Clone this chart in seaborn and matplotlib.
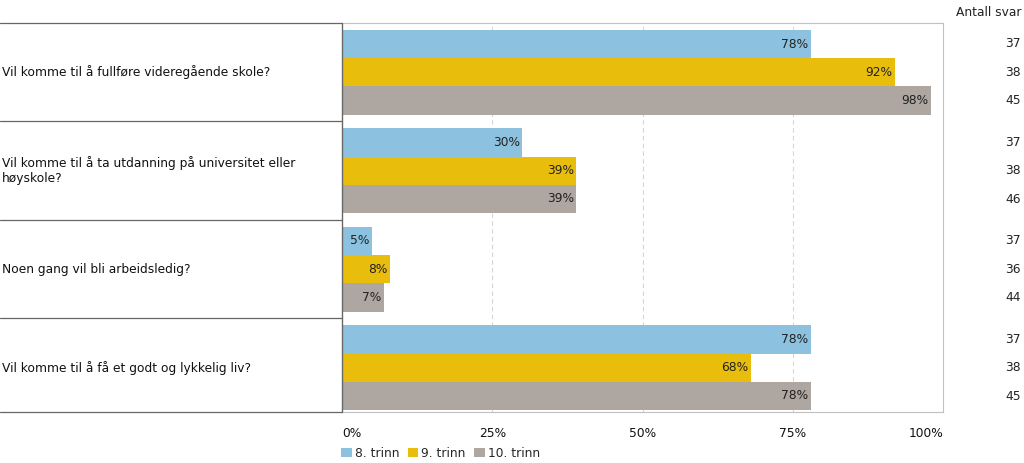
import pandas as pd
import seaborn as sns
import matplotlib.pyplot as plt
import matplotlib.transforms as mtransforms

questions = ['Vil komme til å fullføre videregående skole?',
             'Vil komme til å ta utdanning på universitet eller\nhøyskole?',
             'Noen gang vil bli arbeidsledig?',
             'Vil komme til å få et godt og lykkelig liv?']
grades = ['8. trinn', '9. trinn', '10. trinn']
pct_8 = [78, 30, 5, 78]
pct_9 = [92, 39, 8, 68]
pct_10 = [98, 39, 7, 78]
n_8 = [37, 37, 37, 37]
n_9 = [38, 38, 36, 38]
n_10 = [45, 46, 44, 45]
colors = ['#8cc2df', '#e9bd0b', '#aea6a0']

rows = []
for i, q in enumerate(questions):
    for g, p, n in zip(grades, [pct_8, pct_9, pct_10], [n_8, n_9, n_10]):
        rows.append({'q': q, 'grade': g, 'pct': p[i], 'n': n[i]})
df = pd.DataFrame(rows)

sns.set_style('white')
plt.rcParams['font.family'] = ['DejaVu Sans']
fs = 8.8
fig = plt.figure(figsize=(10.24, 4.63), dpi=100)
W, H = 1024, 463
x0, x1, y0, y1 = 342, 943, 23, 412
ylo, yhi = 3.45, -0.5
ax = fig.add_axes([x0 / W, 1 - y1 / H, (x1 - x0) / W, (y1 - y0) / H])

sns.barplot(data=df, y='q', x='pct', hue='grade', hue_order=grades, order=questions,
            palette=colors, orient='h', width=0.86, saturation=1, linewidth=0,
            ax=ax, legend=True)
ax.set_xlim(0, 100)
ax.set_ylim(ylo, yhi)
ax.set_xticks([0, 25, 50, 75, 100])
ax.set_xticklabels(['0%', '25%', '50%', '75%', '100%'], fontsize=fs, color='#111111')
tl = ax.get_xticklabels()
tl[0].set_horizontalalignment('left')
tl[-1].set_horizontalalignment('right')
ax.tick_params(axis='x', length=0, pad=11)
ax.set_yticks([])
ax.set_xlabel('')
ax.set_ylabel('')
for x in [25, 50, 75]:
    ax.axvline(x, color='#d6d6d6', lw=0.8, ls=(0, (4, 3)), zorder=0)
for s in ax.spines.values():
    s.set_color('#c0c0c0')
    s.set_linewidth(0.8)
ax.spines['left'].set_color('#555555')

# value labels at the inner end of each bar
for cont in ax.containers:
    for patch, v in zip(cont.patches, cont.datavalues):
        ax.text(patch.get_width() - 0.4, patch.get_y() + patch.get_height() / 2,
                f'{v:.0f}%', ha='right', va='center', fontsize=fs, color='#222222')

# left question boxes
axl = fig.add_axes([0, 1 - y1 / H, x0 / W, (y1 - y0) / H])
axl.set_xlim(0, 1)
axl.set_ylim(ylo, yhi)
axl.axis('off')
for b in [-0.5, 0.5, 1.5, 2.5, ylo]:
    axl.plot([0, 1], [b, b], color='#666666', lw=0.9, clip_on=False)
axl.plot([1, 1], [yhi, ylo], color='#666666', lw=0.9, clip_on=False)
for i, q in enumerate(questions):
    axl.text(0.005, i, q, va='center', ha='left', fontsize=fs, color='#111111')

# counts column
trans = mtransforms.blended_transform_factory(fig.transFigure, ax.transData)
offsets = [-0.29, 0, 0.29]
for i in range(len(questions)):
    for off, n in zip(offsets, [n_8, n_9, n_10]):
        ax.text(1021 / W, i + off, str(n[i]), transform=trans, ha='right', va='center',
                fontsize=fs, color='#222222')
fig.text(1021 / W, 1 - 12 / H, 'Antall svar', ha='right', va='center', fontsize=fs, color='#222222')

# legend
handles, labels = ax.get_legend_handles_labels()
ax.legend(handles, labels, loc='upper left', bbox_to_anchor=(-0.009, -0.077), ncol=3,
          frameon=False, fontsize=fs, handlelength=0.85, handleheight=0.85,
          handletextpad=0.25, columnspacing=0.7, borderaxespad=0)

fig.savefig('out.png', dpi=100)
